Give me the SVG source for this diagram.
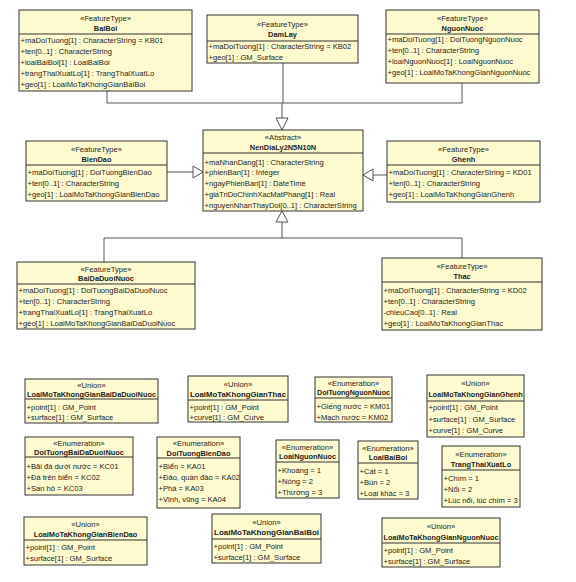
<svg xmlns="http://www.w3.org/2000/svg" width="576" height="582" viewBox="0 0 576 582">
<style>
.b{fill:#FFFBD0;stroke:#333;stroke-width:1}
.d{stroke:#333;stroke-width:1}
text{font-family:"Liberation Sans",Arial,sans-serif;font-size:7.6px;fill:#222}
.s{text-anchor:middle}
.n{text-anchor:middle;font-weight:bold;font-size:7.4px}
.c{fill:none;stroke:#555;stroke-width:1}
.t{fill:#fff;stroke:#555;stroke-width:1}
</style>
<rect width="576" height="582" fill="#fff"/>
<g id="connectors">
<path class="c" d="M107,91 V103 H282 M283,63 V103 M462,83 V103 H282 M282,103 V118"/>
<polygon class="t" points="282,130 276,118 288,118"/>
<path class="c" d="M167,172 H193"/>
<polygon class="t" points="203,172 193,166 193,178"/>
<path class="c" d="M387,175 H372"/>
<polygon class="t" points="363,175 373,169 373,181"/>
<path class="c" d="M104,262 V238 H462 V258 M282,238 V222"/>
<polygon class="t" points="282,211 276,222 288,222"/>
</g>
<g id="BaiBoi">
<rect class="b" x="19" y="10" width="173" height="81"/>
<line class="d" x1="19" y1="34" x2="192" y2="34"/>
<text class="s" x="105.5" y="20.5">«FeatureType»</text>
<text class="n" x="105.5" y="30.5">BaiBoi</text>
<text x="20.5" y="42.5">+maDoiTuong[1] : CharacterString = KB01</text>
<text x="20.5" y="53.7">+ten[0..1] : CharacterString</text>
<text x="20.5" y="64.9">+loaiBaiBoi[1] : LoaiBaiBoi</text>
<text x="20.5" y="76.1">+trangThaiXuatLo[1] : TrangThaiXuatLo</text>
<text x="20.5" y="87.3">+geo[1] : LoaiMoTaKhongGianBaiBoi</text>
</g>
<g id="DamLay">
<rect class="b" x="207" y="15" width="151" height="48"/>
<line class="d" x1="207" y1="41" x2="358" y2="41"/>
<text class="s" x="282.5" y="26.5">«FeatureType»</text>
<text class="n" x="282.5" y="37">DamLay</text>
<text x="208.5" y="49">+maDoiTuong[1] : CharacterString = KB02</text>
<text x="208.5" y="60">+geo[1] : GM_Surface</text>
</g>
<g id="NguonNuoc">
<rect class="b" x="386" y="10" width="153" height="73"/>
<line class="d" x1="386" y1="34" x2="539" y2="34"/>
<text class="s" x="462.5" y="20.5">«FeatureType»</text>
<text class="n" x="462.5" y="30.5">NguonNuoc</text>
<text x="387.5" y="42">+maDoiTuong[1] : DoiTuongNguonNuoc</text>
<text x="387.5" y="53">+ten[0..1] : CharacterString</text>
<text x="387.5" y="64">+loaiNguonNuoc[1] : LoaiNguonNuoc</text>
<text x="387.5" y="75">+geo[1] : LoaiMoTaKhongGianNguonNuoc</text>
</g>
<g id="NenDiaLy2N5N10N">
<rect class="b" x="203" y="130" width="160" height="81"/>
<line class="d" x1="203" y1="153" x2="363" y2="153"/>
<text class="s" x="283" y="140">«Abstract»</text>
<text class="n" x="283" y="150">NenDiaLy2N5N10N</text>
<text x="204.5" y="164.5">+maNhanDang[1] : CharacterString</text>
<text x="204.5" y="175.3">+phienBan[1] : Integer</text>
<text x="204.5" y="186.1">+ngayPhienBan[1] : DateTime</text>
<text x="204.5" y="196.9">+giaTriDoChinhXacMatPhang[1] : Real</text>
<text x="204.5" y="207.7">+nguyenNhanThayDoi[0..1] : CharacterString</text>
</g>
<g id="BienDao">
<rect class="b" x="26" y="141" width="141" height="60"/>
<line class="d" x1="26" y1="165" x2="167" y2="165"/>
<text class="s" x="96.5" y="151.5">«FeatureType»</text>
<text class="n" x="96.5" y="161.5">BienDao</text>
<text x="27.5" y="175">+maDoiTuong[1] : DoiTuongBienDao</text>
<text x="27.5" y="186">+ten[0..1] : CharacterString</text>
<text x="27.5" y="197">+geo[1] : LoaiMoTaKhongGianBienDao</text>
</g>
<g id="Ghenh">
<rect class="b" x="387" y="141" width="153" height="61"/>
<line class="d" x1="387" y1="165" x2="540" y2="165"/>
<text class="s" x="463.5" y="151.5">«FeatureType»</text>
<text class="n" x="463.5" y="161.5">Ghenh</text>
<text x="388.5" y="175">+maDoiTuong[1] : CharacterString = KD01</text>
<text x="388.5" y="186">+ten[0..1] : CharacterString</text>
<text x="388.5" y="197">+geo[1] : LoaiMoTaKhongGianGhenh</text>
</g>
<g id="BaiDaDuoiNuoc">
<rect class="b" x="17" y="262" width="178" height="67"/>
<line class="d" x1="17" y1="284" x2="195" y2="284"/>
<text class="s" x="106" y="271.5">«FeatureType»</text>
<text class="n" x="106" y="281">BaiDaDuoiNuoc</text>
<text x="18.5" y="292.5">+maDoiTuong[1] : DoiTuongBaiDaDuoiNuoc</text>
<text x="18.5" y="303.5">+ten[0..1] : CharacterString</text>
<text x="18.5" y="314.5">+trangThaiXuatLo[1] : TrangThaiXuatLo</text>
<text x="18.5" y="325.5">+geo[1] : LoaiMoTaKhongGianBaiDaDuoiNuoc</text>
</g>
<g id="Thac">
<rect class="b" x="382" y="258" width="160" height="72"/>
<line class="d" x1="382" y1="282" x2="542" y2="282"/>
<text class="s" x="462" y="268.5">«FeatureType»</text>
<text class="n" x="462" y="278.5">Thac</text>
<text x="383.5" y="293">+maDoiTuong[1] : CharacterString = KD02</text>
<text x="383.5" y="304">+ten[0..1] : CharacterString</text>
<text x="383.5" y="315">-chieuCao[0..1] : Real</text>
<text x="383.5" y="326">+geo[1] : LoaiMoTaKhongGianThac</text>
</g>
<g id="LoaiMoTaKhongGianBaiDaDuoiNuoc">
<rect class="b" x="25" y="379" width="133" height="44"/>
<line class="d" x1="25" y1="399" x2="158" y2="399"/>
<text class="s" x="91.5" y="387.5">«Union»</text>
<text class="n" x="91.5" y="396.5" textLength="129" lengthAdjust="spacingAndGlyphs">LoaiMoTaKhongGianBaiDaDuoiNuoc</text>
<text x="26.5" y="409.5">+point[1] : GM_Point</text>
<text x="26.5" y="420">+surface[1] : GM_Surface</text>
</g>
<g id="LoaiMoTaKhongGianThac">
<rect class="b" x="188" y="376" width="100" height="46"/>
<line class="d" x1="188" y1="400" x2="288" y2="400"/>
<text class="s" x="238" y="386.5">«Union»</text>
<text class="n" x="238" y="396.5" textLength="96" lengthAdjust="spacingAndGlyphs">LoaiMoTaKhongGianThac</text>
<text x="189.5" y="409.5">+point[1] : GM_Point</text>
<text x="189.5" y="420">+curve[1] : GM_Curve</text>
</g>
<g id="DoiTuongNguonNuoc">
<rect class="b" x="315" y="377" width="77" height="45"/>
<line class="d" x1="315" y1="398" x2="392" y2="398"/>
<text class="s" x="353.5" y="386">«Enumeration»</text>
<text class="n" x="353.5" y="395" textLength="73" lengthAdjust="spacingAndGlyphs">DoiTuongNguonNuoc</text>
<text x="316.5" y="408.5">+Giếng nước = KM01</text>
<text x="316.5" y="419.5">+Mạch nước = KM02</text>
</g>
<g id="LoaiMoTaKhongGianGhenh">
<rect class="b" x="427" y="375" width="97" height="62"/>
<line class="d" x1="427" y1="401" x2="524" y2="401"/>
<text class="s" x="475.5" y="386">«Union»</text>
<text class="n" x="475.5" y="397" textLength="94" lengthAdjust="spacingAndGlyphs">LoaiMoTaKhongGianGhenh</text>
<text x="428.5" y="410">+point[1] : GM_Point</text>
<text x="428.5" y="421.5">+surface[1] : GM_Surface</text>
<text x="428.5" y="433">+curve[1] : GM_Curve</text>
</g>
<g id="DoiTuongBaiDaDuoiNuoc">
<rect class="b" x="25" y="437" width="108" height="58"/>
<line class="d" x1="25" y1="457" x2="133" y2="457"/>
<text class="s" x="79" y="445.5">«Enumeration»</text>
<text class="n" x="79" y="454.5">DoiTuongBaiDaDuoiNuoc</text>
<text x="26.5" y="468.5">+Bãi đá dưới nước = KC01</text>
<text x="26.5" y="479.5">+Đá trên biển = KC02</text>
<text x="26.5" y="490.5">+San hô = KC03</text>
</g>
<g id="DoiTuongBienDao">
<rect class="b" x="157" y="437" width="83" height="71"/>
<line class="d" x1="157" y1="458" x2="240" y2="458"/>
<text class="s" x="198.5" y="446">«Enumeration»</text>
<text class="n" x="198.5" y="455.5">DoiTuongBienDao</text>
<text x="158.5" y="468.5">+Biển = KA01</text>
<text x="158.5" y="479.5">+Đảo, quần đảo = KA02</text>
<text x="158.5" y="490.5">+Phá = KA03</text>
<text x="158.5" y="501.5">+Vịnh, vũng = KA04</text>
</g>
<g id="LoaiNguonNuoc">
<rect class="b" x="276" y="440" width="63" height="58"/>
<line class="d" x1="276" y1="462" x2="339" y2="462"/>
<text class="s" x="307.5" y="449.5">«Enumeration»</text>
<text class="n" x="307.5" y="459">LoaiNguonNuoc</text>
<text x="277.5" y="472.5">+Khoáng = 1</text>
<text x="277.5" y="483.5">+Nóng = 2</text>
<text x="277.5" y="494.5">+Thường = 3</text>
</g>
<g id="LoaiBaiBoi">
<rect class="b" x="358" y="441" width="60" height="58"/>
<line class="d" x1="358" y1="463" x2="418" y2="463"/>
<text class="s" x="388" y="450.5">«Enumeration»</text>
<text class="n" x="388" y="460">LoaiBaiBoi</text>
<text x="359.5" y="473.5">+Cát = 1</text>
<text x="359.5" y="484.5">+Bùn = 2</text>
<text x="359.5" y="495.5">+Loại khác = 3</text>
</g>
<g id="TrangThaiXuatLo">
<rect class="b" x="442" y="446" width="78" height="61"/>
<line class="d" x1="442" y1="470" x2="520" y2="470"/>
<text class="s" x="481" y="456.5">«Enumeration»</text>
<text class="n" x="481" y="466.5">TrangThaiXuatLo</text>
<text x="443.5" y="480.5">+Chìm = 1</text>
<text x="443.5" y="491.5">+Nổi = 2</text>
<text x="443.5" y="502.5">+Lúc nổi, lúc chìm = 3</text>
</g>
<g id="LoaiMoTaKhongGianBienDao">
<rect class="b" x="24" y="517" width="123" height="48"/>
<line class="d" x1="24" y1="540" x2="147" y2="540"/>
<text class="s" x="85.5" y="527">«Union»</text>
<text class="n" x="85.5" y="537">LoaiMoTaKhongGianBienDao</text>
<text x="25.5" y="550">+point[1] : GM_Point</text>
<text x="25.5" y="561">+surface[1] : GM_Surface</text>
</g>
<g id="LoaiMoTaKhongGianBaiBoi">
<rect class="b" x="212" y="514" width="109" height="49"/>
<line class="d" x1="212" y1="539" x2="321" y2="539"/>
<text class="s" x="266.5" y="524.5">«Union»</text>
<text class="n" x="266.5" y="535" textLength="105" lengthAdjust="spacingAndGlyphs">LoaiMoTaKhongGianBaiBoi</text>
<text x="213.5" y="549">+point[1] : GM_Point</text>
<text x="213.5" y="560">+surface[1] : GM_Surface</text>
</g>
<g id="LoaiMoTaKhongGianNguonNuoc">
<rect class="b" x="382" y="518" width="118" height="49"/>
<line class="d" x1="382" y1="543" x2="500" y2="543"/>
<text class="s" x="441" y="529">«Union»</text>
<text class="n" x="441" y="539.5" textLength="115" lengthAdjust="spacingAndGlyphs">LoaiMoTaKhongGianNguonNuoc</text>
<text x="383.5" y="552.5">+point[1] : GM_Point</text>
<text x="383.5" y="563.5">+surface[1] : GM_Surface</text>
</g>
</svg>
